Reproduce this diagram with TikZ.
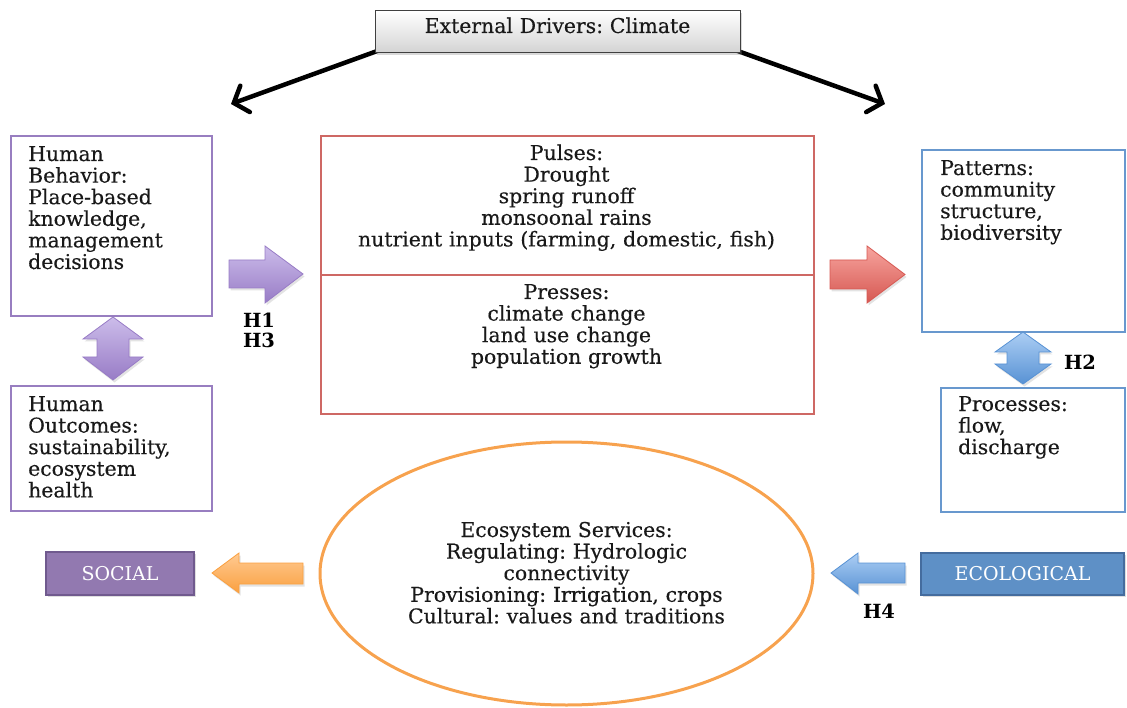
\documentclass[tikz,border=0pt]{standalone}
\usepackage{fontspec}
\setmainfont{DejaVu Serif}
\newfontfamily\bodyfont{DejaVu Serif}[FakeBold=0.35]
\frenchspacing
\usetikzlibrary{arrows.meta,shadows,calc,shapes.geometric}

\definecolor{purpleline}{RGB}{152,126,192}
\definecolor{redline}{RGB}{206,104,100}
\definecolor{blueline}{RGB}{104,152,206}
\definecolor{orangeline}{RGB}{247,162,78}
\definecolor{socialfill}{RGB}{146,121,176}
\definecolor{socialedge}{RGB}{112,90,142}
\definecolor{ecofill}{RGB}{94,144,198}
\definecolor{ecoedge}{RGB}{68,108,158}
\definecolor{purpletop}{RGB}{204,188,234}
\definecolor{purplebot}{RGB}{152,124,198}
\definecolor{redtop}{RGB}{247,164,158}
\definecolor{redbot}{RGB}{214,88,82}
\definecolor{bluetop}{RGB}{172,206,244}
\definecolor{bluebot}{RGB}{88,146,212}
\definecolor{orangetop}{RGB}{255,202,146}
\definecolor{orangebot}{RGB}{250,160,64}
\definecolor{ink}{RGB}{25,25,25}

\tikzset{
  boxframe/.style={draw, line width=2.4pt, inner sep=0pt},
  txt/.style={inner sep=0pt, text=ink, font=\bodyfont\fontsize{20.4}{21.6}\selectfont},
  lefttxt/.style={txt, anchor=base west, align=left, text width=#1},
  midtxt/.style={txt, anchor=base, align=center, text width=#1},
  hlabel/.style={inner sep=0pt, font=\fontsize{19.5}{21}\selectfont\bfseries, align=center},
  tag/.style={draw, line width=2pt, inner sep=0pt, text=white,
    font=\fontsize{19}{21}\selectfont,
    drop shadow={opacity=0.25, shadow xshift=1.5pt, shadow yshift=-2pt}},
  driver/.style={-{Straight Barb[length=12pt,width=28pt,line cap=round]},
    line width=4.5pt, line cap=round, black},
  blockarrow/.style n args={3}{draw=#3, line width=0.8pt, top color=#1, bottom color=#2,
    drop shadow={opacity=0.22, shadow xshift=1.5pt, shadow yshift=-2.5pt}},
}

\begin{document}
\begin{tikzpicture}[x=1pt, y=-1pt]
\useasboundingbox (0,0) rectangle (1127,708);

% external driver and its two arrows
\coordinate (dl) at (231,104);
\coordinate (dr) at (885,104);
\draw[driver] (380,50) -- (dl);
\draw[driver] (735,50) -- (dr);
\node (climate) [draw=black!75, line width=1.2pt, top color=white, bottom color=black!17,
  minimum width=365pt, minimum height=42pt, inner sep=0pt, anchor=north west,
  drop shadow={opacity=0.3, shadow xshift=1pt, shadow yshift=-2.5pt}] at (375,10) {};
\node (climatetxt) [midtxt=360pt] at (557.5,33) {External Drivers: Climate};

% social side
\node (behavior) [boxframe, draw=purpleline, minimum width=201pt, minimum height=180pt,
  anchor=north west] at (10,135) {};
\node (behaviortxt) [lefttxt=180pt] at (28,161)
  {Human\\Behavior:\\Place-based\\knowledge,\\management\\decisions};
\node (outcomes) [boxframe, draw=purpleline, minimum width=201pt, minimum height=125pt,
  anchor=north west] at (10,385) {};
\node (outcomestxt) [lefttxt=180pt] at (28,411)
  {Human\\Outcomes:\\sustainability,\\ecosystem\\health};

% pulses and presses
\node (pulses) [boxframe, draw=redline, minimum width=493pt, minimum height=139pt,
  anchor=north west] at (320,135) {};
\node (presses) [boxframe, draw=redline, minimum width=493pt, minimum height=139pt,
  anchor=north west] at (320,274) {};
\node (pulsestxt) [midtxt=480pt] at (566.5,160)
  {Pulses:\\Drought\\spring runoff\\monsoonal rains\\nutrient inputs (farming, domestic, fish)};
\node (pressestxt) [midtxt=480pt] at (566.5,299)
  {Presses:\\climate change\\land use change\\population growth};

% ecological side
\node (patterns) [boxframe, draw=blueline, minimum width=203pt, minimum height=182pt,
  anchor=north west] at (921,149) {};
\node (patternstxt) [lefttxt=180pt] at (940,175)
  {Patterns:\\community\\structure,\\biodiversity};
\node (processes) [boxframe, draw=blueline, minimum width=184pt, minimum height=124pt,
  anchor=north west] at (940,387) {};
\node (processestxt) [lefttxt=160pt] at (958,411)
  {Processes:\\flow,\\discharge};

% ecosystem services
\node (services) [draw=orangeline, line width=3pt, ellipse, minimum width=493pt,
  minimum height=263pt, inner sep=0pt] at (566.5,573.5) {};
\node (servicestxt) [midtxt=440pt] at (566.5,537)
  {Ecosystem Services:\\Regulating: Hydrologic\\connectivity\\Provisioning: Irrigation, crops\\Cultural: values and traditions};

% system tags
\node (social) [tag, fill=socialfill, draw=socialedge, minimum width=148pt,
  minimum height=43pt] at (120,573.5) {SOCIAL};
\node (ecological) [tag, fill=ecofill, draw=ecoedge, minimum width=203pt,
  minimum height=42pt] at (1022.5,574) {ECOLOGICAL};

% block arrows
\path[blockarrow={purpletop}{purplebot}{purplebot}]
  (229,260) -- (265,260) -- (265,246) -- (303,274) -- (265,303) -- (265,288) -- (229,288) -- cycle;
\path[blockarrow={purpletop}{purplebot}{purplebot}]
  (113,317) -- (143,339) -- (129,339) -- (129,357) -- (143,357) -- (113,380)
  -- (83,357) -- (97,357) -- (97,339) -- (83,339) -- cycle;
\path[blockarrow={redtop}{redbot}{redbot}]
  (830,260) -- (867,260) -- (867,246) -- (905,274.5) -- (867,303) -- (867,289) -- (830,289) -- cycle;
\path[blockarrow={bluetop}{bluebot}{bluebot}]
  (1023,332) -- (1051,352) -- (1039,352) -- (1039,364) -- (1051,364) -- (1023,384)
  -- (995,364) -- (1007,364) -- (1007,352) -- (995,352) -- cycle;
\path[blockarrow={orangetop}{orangebot}{orangebot}]
  (212,573) -- (239,553) -- (239,563) -- (303,563) -- (303,584) -- (239,584) -- (239,593) -- cycle;
\path[blockarrow={bluetop}{bluebot}{bluebot}]
  (831,573) -- (858,553) -- (858,563) -- (905,563) -- (905,583) -- (858,583) -- (858,594) -- cycle;

% hypothesis labels
\node (h13) [hlabel] at (259,330) {H1\\[-1pt]H3};
\node (h2) [hlabel] at (1080,362) {H2};
\node (h4) [hlabel] at (879,611) {H4};
\end{tikzpicture}
\end{document}
